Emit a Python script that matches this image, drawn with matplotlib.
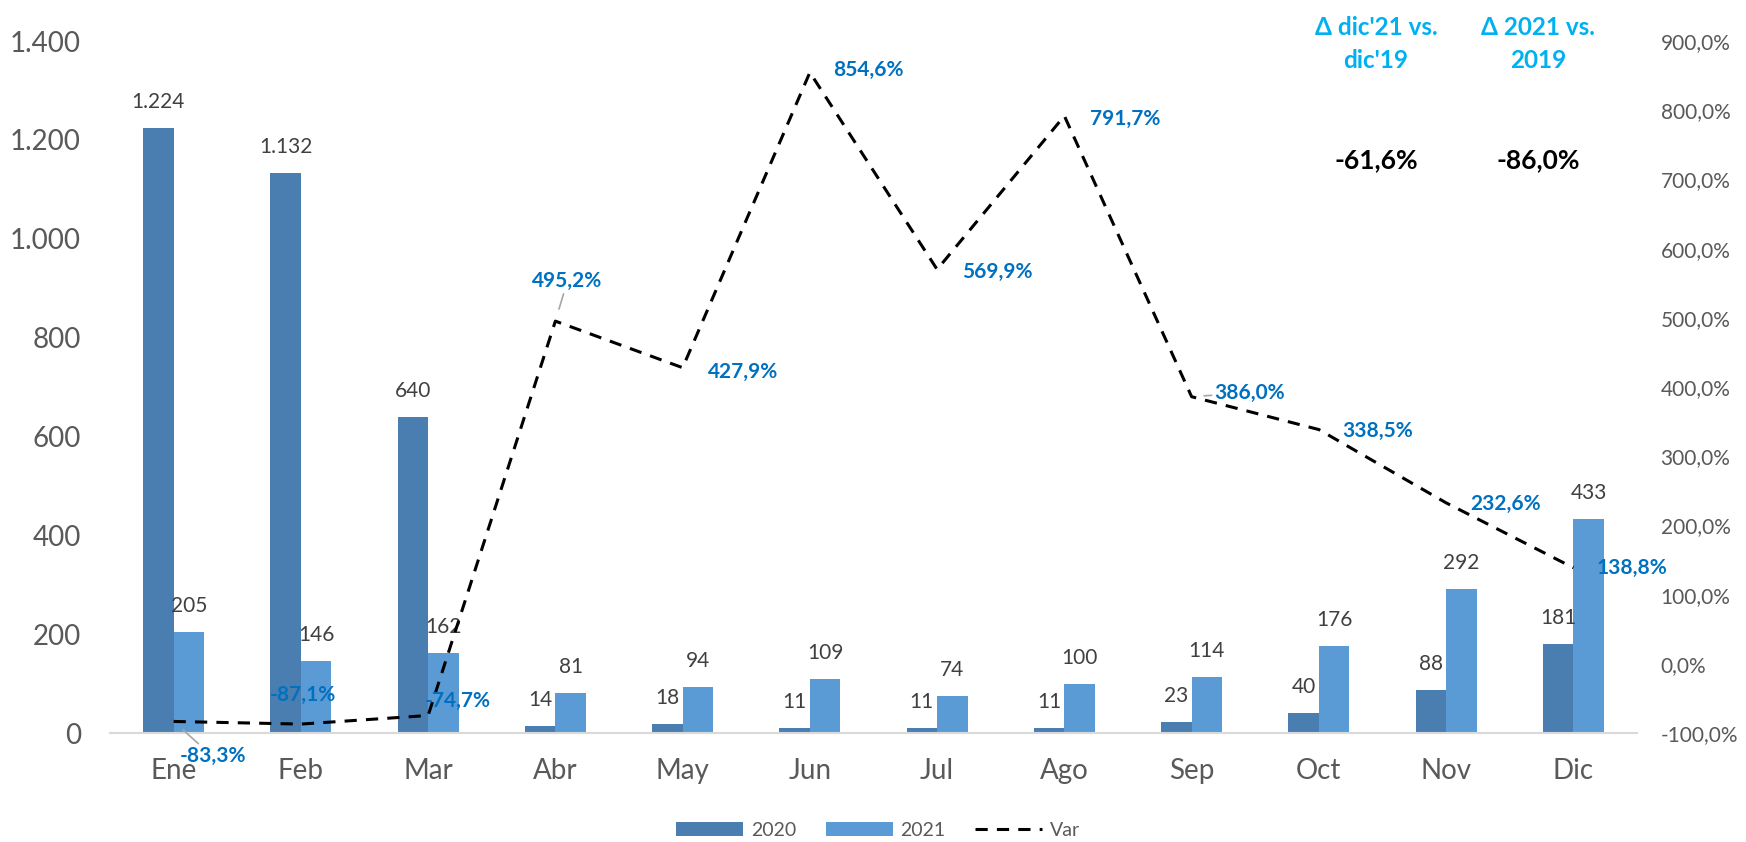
import numpy as np
import matplotlib
matplotlib.use('Agg')
import matplotlib.pyplot as plt

plt.rcParams['font.family'] = ['Lato', 'DejaVu Sans']

months = ['Ene', 'Feb', 'Mar', 'Abr', 'May', 'Jun', 'Jul', 'Ago', 'Sep', 'Oct', 'Nov', 'Dic']
v2020 = [1224, 1132, 640, 14, 18, 11, 11, 11, 23, 40, 88, 181]
v2021 = [205, 146, 162, 81, 94, 109, 74, 100, 114, 176, 292, 433]
var = [-83.3, -87.1, -74.7, 495.2, 427.9, 854.6, 569.9, 791.7, 386.0, 338.5, 232.6, 138.8]

head_titles = ["Δ dic'21 vs.\ndic'19", "Δ 2021 vs.\n2019"]
head_values = ['-61,6%', '-86,0%']

c2020 = '#4A7EB1'
c2021 = '#5B9BD5'
c_lab = '#0070C0'
c_head = '#00B0F0'
c_tick = '#595959'

W, H = 1746, 842
fig = plt.figure(figsize=(W / 100, H / 100), dpi=100)
ax = fig.add_axes([110 / W, 1 - 733 / H, (1637 - 110) / W, (733 - 41) / H])
ax2 = ax.twinx()

x = np.arange(len(months))
bw = 0.24
b1 = ax.bar(x - bw / 2, v2020, bw, color=c2020, label='2020')
b2 = ax.bar(x + bw / 2, v2021, bw, color=c2021, label='2021')

fmt_int = lambda v: f'{v:,.0f}'.replace(',', '.')
for bars, vals in ((b1, v2020), (b2, v2021)):
    for r, v in zip(bars, vals):
        ax.annotate(fmt_int(v), (r.get_x() + r.get_width() / 2, v),
                    xytext=(0, 26), textcoords='offset pixels',
                    ha='center', va='center', fontsize=15, color='#404040')

ax.set_xlim(-0.5, len(months) - 0.5)
ax.set_ylim(0, 1400)
ax.set_yticks(np.arange(0, 1401, 200))
ax.set_yticklabels([fmt_int(v) for v in np.arange(0, 1401, 200)])
ax.set_xticks(x)
ax.set_xticklabels(months)
ax.tick_params(axis='y', length=0, pad=21, labelsize=20, labelcolor=c_tick)
ax.tick_params(axis='x', length=0, pad=18, labelsize=20, labelcolor=c_tick)
for s in ['top', 'left', 'right']:
    ax.spines[s].set_visible(False)
ax.spines['bottom'].set_color('#D9D9D9')
ax.spines['bottom'].set_linewidth(1.5)

ln, = ax2.plot(x, var, color='black', lw=2.2, dashes=(4, 3), label='Var')
ax2.set_ylim(-100, 900)
rt = np.arange(-100, 901, 100)
ax2.set_yticks(rt)
ax2.set_yticklabels([f'{v:.1f}'.replace('.', ',') + '%' for v in rt])
ax2.tick_params(axis='y', length=0, pad=17, labelsize=15, labelcolor=c_tick)
for s in ax2.spines.values():
    s.set_visible(False)

# label offsets in pixels relative to each point
offs = [(39, -35), (2, 29), (30, 15), (12, 40), (60, -4), (58, 2),
        (60, -3), (61, -3), (58, 4), (59, -1), (59, -1), (59, 0)]
leader = {0, 3, 8}
for i, (v, (dx, dy)) in enumerate(zip(var, offs)):
    txt = f'{v:.1f}'.replace('.', ',') + '%'
    kw = {}
    if i in leader:
        kw['arrowprops'] = dict(arrowstyle='-', color='#A6A6A6', lw=1.2, shrinkA=0, shrinkB=9)
    ax2.annotate(txt, (x[i], v), xytext=(dx, dy), textcoords='offset pixels',
                 ha='center', va='center', fontsize=15, fontweight='bold',
                 color=c_lab, **kw)

# header boxes
for cx, t, val in zip([1376, 1538], head_titles, head_values):
    fig.text(cx / W, 1 - 44 / H, t, ha='center', va='center', fontsize=17.5,
             fontweight='bold', color=c_head, linespacing=1.55)
    fig.text(cx / W, 1 - 160 / H, val, ha='center', va='center', fontsize=19,
             fontweight='bold', color='black')

fig.legend(handles=[b1, b2, ln], labels=['2020', '2021', 'Var'],
           loc='center', bbox_to_anchor=(878 / W, 1 - 830 / H), ncol=3,
           frameon=False, fontsize=14, handlelength=3.45, handleheight=0.7,
           handletextpad=0.4, columnspacing=1.5, labelcolor=c_tick)

fig.savefig('out.png', dpi=100)
